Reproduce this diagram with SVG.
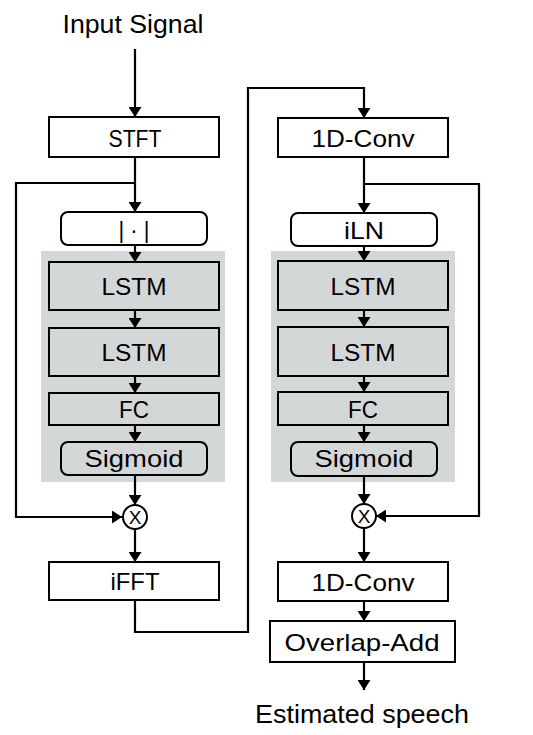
<svg xmlns="http://www.w3.org/2000/svg" width="533" height="735" viewBox="0 0 533 735">
<defs>
<marker id="ah" viewBox="0 0 10 13" refX="10" refY="6.5" markerWidth="10" markerHeight="13" markerUnits="userSpaceOnUse" orient="auto">
<path d="M0,0 L10,6.5 L0,13 Z" fill="#000"/>
</marker>
<style>
.bg{fill:#d4d7d8;stroke:none}
.box{fill:#fff;stroke:#000;stroke-width:2}
.gbox{fill:#d4d7d8;stroke:#000;stroke-width:2}
.t{font-family:"Liberation Sans",Arial,sans-serif;font-size:24px;fill:#000;text-anchor:middle}
.lbl{font-family:"Liberation Sans",Arial,sans-serif;font-size:26px;fill:#000;text-anchor:middle}
.ca{fill:none;stroke:#000;stroke-width:2.2;marker-end:url(#ah)}
</style>
</defs>
<rect width="533" height="735" fill="#fff"/>
<rect class="bg" x="41" y="251" width="184" height="231"/>
<rect class="bg" x="271" y="251" width="184" height="231"/>
<g id="connectors">
<path class="ca" d="M135,49 V117"/>
<path class="ca" d="M135,157 V212"/>
<path class="ca" d="M135,183 H16 V517 H122"/>
<path class="ca" d="M135,245 V262"/>
<path class="ca" d="M135,310 V328"/>
<path class="ca" d="M135,376 V393"/>
<path class="ca" d="M135,425 V442"/>
<path class="ca" d="M135,475 V505"/>
<path class="ca" d="M135,529 V562"/>
<path class="ca" d="M135,600 V632 H248 V88 H364 V118"/>
<path class="ca" d="M364,157 V213"/>
<path class="ca" d="M364,184 H479 V516 H376"/>
<path class="ca" d="M364,246 V261"/>
<path class="ca" d="M364,310 V327"/>
<path class="ca" d="M364,376 V392"/>
<path class="ca" d="M364,425 V442"/>
<path class="ca" d="M364,476 V504"/>
<path class="ca" d="M364,528 V562"/>
<path class="ca" d="M364,601 V621"/>
<path class="ca" d="M364,662 V690"/>
</g>
<text id="input" class="lbl" x="133" y="33" textLength="141" lengthAdjust="spacingAndGlyphs">Input Signal</text>
<g id="stft"><rect class="box" x="49" y="117" width="170" height="40"/><text class="t" x="135" y="147" textLength="53" lengthAdjust="spacingAndGlyphs">STFT</text></g>
<g id="abs"><rect class="box" x="61" y="212" width="146" height="33" rx="7"/><text class="t" x="134" y="238" textLength="31" lengthAdjust="spacingAndGlyphs">| · |</text></g>
<g id="lstm1a"><rect class="gbox" x="49" y="262" width="170" height="48"/><text class="t" x="134" y="295" textLength="65" lengthAdjust="spacingAndGlyphs">LSTM</text></g>
<g id="lstm2a"><rect class="gbox" x="49" y="328" width="170" height="48"/><text class="t" x="134" y="361" textLength="65" lengthAdjust="spacingAndGlyphs">LSTM</text></g>
<g id="fca"><rect class="gbox" x="49" y="393" width="170" height="32"/><text class="t" x="134" y="418" textLength="30" lengthAdjust="spacingAndGlyphs">FC</text></g>
<g id="sigmoida"><rect class="gbox" x="61" y="442" width="146" height="33" rx="7"/><text class="t" x="134" y="467" textLength="99" lengthAdjust="spacingAndGlyphs">Sigmoid</text></g>
<g id="mula"><circle cx="135" cy="517" r="12" fill="#fff" stroke="#000" stroke-width="2"/><text class="t" x="135" y="524" style="font-size:19px">X</text></g>
<g id="ifft"><rect class="box" x="49" y="562" width="170" height="38"/><text class="t" x="135" y="590" textLength="49" lengthAdjust="spacingAndGlyphs">iFFT</text></g>
<g id="conv1"><rect class="box" x="278" y="118" width="170" height="39"/><text class="t" x="363" y="147" textLength="103" lengthAdjust="spacingAndGlyphs">1D-Conv</text></g>
<g id="iln"><rect class="box" x="291" y="213" width="146" height="33" rx="7"/><text class="t" x="364" y="239" textLength="40" lengthAdjust="spacingAndGlyphs">iLN</text></g>
<g id="lstm1b"><rect class="gbox" x="278" y="261" width="170" height="49"/><text class="t" x="363" y="295" textLength="65" lengthAdjust="spacingAndGlyphs">LSTM</text></g>
<g id="lstm2b"><rect class="gbox" x="278" y="327" width="170" height="49"/><text class="t" x="363" y="361" textLength="65" lengthAdjust="spacingAndGlyphs">LSTM</text></g>
<g id="fcb"><rect class="gbox" x="278" y="392" width="170" height="33"/><text class="t" x="363" y="418" textLength="30" lengthAdjust="spacingAndGlyphs">FC</text></g>
<g id="sigmoidb"><rect class="gbox" x="291" y="442" width="146" height="34" rx="7"/><text class="t" x="364" y="467" textLength="99" lengthAdjust="spacingAndGlyphs">Sigmoid</text></g>
<g id="mulb"><circle cx="364" cy="516" r="12" fill="#fff" stroke="#000" stroke-width="2"/><text class="t" x="364" y="523" style="font-size:19px">X</text></g>
<g id="conv2"><rect class="box" x="278" y="562" width="170" height="39"/><text class="t" x="363" y="591" textLength="103" lengthAdjust="spacingAndGlyphs">1D-Conv</text></g>
<g id="ola"><rect class="box" x="270" y="621" width="185" height="41"/><text class="t" x="362" y="651" textLength="155" lengthAdjust="spacingAndGlyphs">Overlap-Add</text></g>
<text id="output" class="lbl" x="362" y="723" textLength="214" lengthAdjust="spacingAndGlyphs">Estimated speech</text>
</svg>
